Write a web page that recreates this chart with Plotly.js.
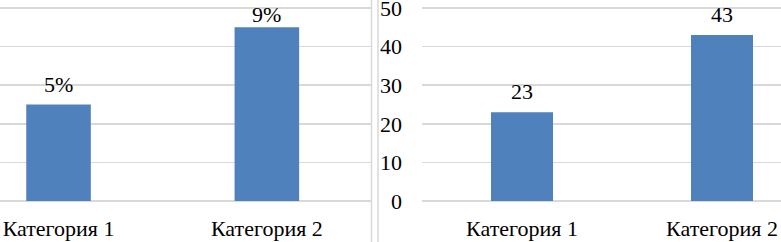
<!DOCTYPE html>
<html>
<head>
<meta charset="utf-8">
<script src="https://cdn.plot.ly/plotly-3.0.1.min.js"></script>
<style>
html,body{margin:0;padding:0;background:#fff;}
#chart{width:781px;height:242px;}
</style>
</head>
<body>
<div id="chart"></div>
<script>
// Data
const categories = ["Категория 1", "Категория 2"];
const leftValues = [5, 9];          // percent
const leftLabels = ["5%", "9%"];
const rightValues = [23, 43];
const rightLabels = ["23", "43"];
const rightTickVals = [0, 10, 20, 30, 40, 50];
const leftTickVals = [0, 2, 4, 6, 8, 10];

const W = 781, H = 242;
const barColor = "#4F81BD";
const gridColor = "#d9d9d9";
const fontFamily = "\"Liberation Serif\", \"Times New Roman\", serif";

// plot area: value 0 at y=201, top gridline at y=8; extend to paper top
const Y0 = 201, YTOP = 8;
const yDomain = [(H - Y0) / H, 1];
const rightTop = 50 * Y0 / (Y0 - YTOP);
const leftTop = 10 * Y0 / (Y0 - YTOP);

const traces = [
  {
    type: "bar", x: [0, 1], y: leftValues, xaxis: "x", yaxis: "y",
    marker: {color: barColor}, width: 0.31, hoverinfo: "skip"
  },
  {
    type: "bar", x: [0, 1], y: rightValues, xaxis: "x2", yaxis: "y2",
    marker: {color: barColor}, width: 0.31, hoverinfo: "skip"
  }
];

// data labels above bars, kept inside the chart (label centre no higher than y=13.5px)
function labelShift(v, top) {
  const barPx = Y0 - v * Y0 / top;      // pixel of bar top
  const centre = barPx - 21;             // normal label centre
  const minCentre = 13.5;
  return 6 - Math.max(0, minCentre - centre);
}
const annotations = [];
leftValues.forEach((v, i) => annotations.push({
  x: i, y: v, xref: "x", yref: "y", text: leftLabels[i], showarrow: false,
  yanchor: "bottom", yshift: labelShift(v, leftTop), font: {family: fontFamily, size: 22, color: "#000"}
}));
rightValues.forEach((v, i) => annotations.push({
  x: i, y: v, xref: "x2", yref: "y2", text: rightLabels[i], showarrow: false,
  yanchor: "bottom", yshift: labelShift(v, rightTop), font: {family: fontFamily, size: 22, color: "#000"}
}));

const layout = {
  width: W, height: H,
  margin: {l: 0, r: 0, t: 0, b: 0, pad: 0},
  paper_bgcolor: "#fff", plot_bgcolor: "#fff",
  showlegend: false,
  font: {family: fontFamily, size: 22, color: "#000"},
  xaxis: {
    domain: [0, 371 / W], range: [-0.281, 1.5],
    tickvals: [0, 1], ticktext: categories, showgrid: false, zeroline: false,
    showline: false, ticks: "", ticklabelstandoff: 12, ticklabeloverflow: "allow",
    tickfont: {family: fontFamily, size: 22, color: "#000"}
  },
  yaxis: {
    domain: yDomain, range: [0, leftTop], tickvals: leftTickVals,
    showticklabels: false, gridcolor: gridColor, gridwidth: 1.5,
    zeroline: true, zerolinecolor: gridColor, zerolinewidth: 2, showline: false
  },
  xaxis2: {
    domain: [422 / W, 1], range: [-0.5, 1.295], anchor: "y2",
    tickvals: [0, 1], ticktext: categories, showgrid: false, zeroline: false,
    showline: false, ticks: "", ticklabelstandoff: 12, ticklabeloverflow: "allow",
    tickfont: {family: fontFamily, size: 22, color: "#000"}
  },
  yaxis2: {
    domain: yDomain, range: [0, rightTop], anchor: "x2",
    tickvals: rightTickVals, gridcolor: gridColor, gridwidth: 1.5,
    zeroline: true, zerolinecolor: gridColor, zerolinewidth: 2, showline: false,
    ticks: "", ticklabelstandoff: 19, ticklabeloverflow: "allow",
    tickfont: {family: fontFamily, size: 22, color: "#000"}
  },
  shapes: [
    {type: "line", xref: "paper", yref: "paper", x0: 371.5 / W, x1: 371.5 / W, y0: 0, y1: 1,
     line: {color: gridColor, width: 1.5}},
    {type: "line", xref: "paper", yref: "paper", x0: 378 / W, x1: 378 / W, y0: 0, y1: 1,
     line: {color: gridColor, width: 1.5}}
  ],
  annotations: annotations
};

Plotly.newPlot("chart", traces, layout, {staticPlot: true, displayModeBar: false});
</script>
</body>
</html>
